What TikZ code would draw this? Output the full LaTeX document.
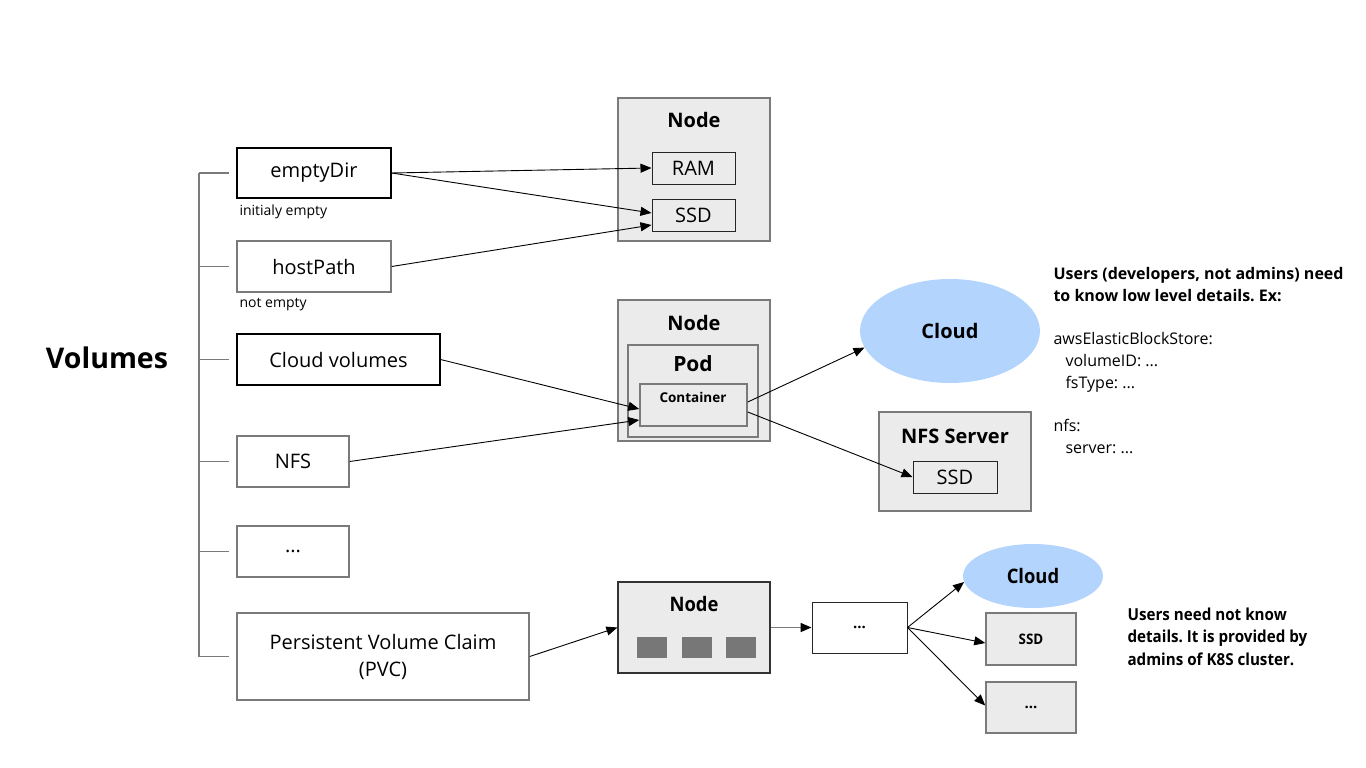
\documentclass[tikz,border=0pt]{standalone}
\usepackage{fontspec}
\setmainfont{Open Sans}
\newfontfamily\condfont[FakeStretch=0.92]{Open Sans}
\usepackage{tikz}
\usetikzlibrary{arrows.meta}
\usetikzlibrary{positioning}
\usetikzlibrary{shapes.geometric}
\definecolor{boxgray}{HTML}{EBEBEB}
\definecolor{linegray}{HTML}{7A7A7A}
\definecolor{cloudblue}{HTML}{B3D4FC}
\definecolor{chipgray}{HTML}{777777}
\frenchspacing

\begin{document}
\begin{tikzpicture}[
    x=1pt, y=-1pt,
    vol/.style={rectangle, draw=linegray, line width=1.5pt, inner sep=0pt, align=center, font=\fontsize{20}{27}\selectfont},
    host/.style={rectangle, draw=linegray, line width=1.5pt, inner sep=0pt, fill=boxgray},
    part/.style={rectangle, draw=black!85, line width=1pt, inner sep=0pt, fill=boxgray, font=\fontsize{20}{22}\selectfont},
    cloud/.style={ellipse, fill=cloudblue, inner sep=0pt},
    title/.style={font=\bfseries\fontsize{20}{22}\selectfont},
    note/.style={anchor=west, font=\fontsize{14}{16}\selectfont},
    edge/.style={-{Triangle[length=11pt,width=9pt]}, line width=0.9pt},
    bracket/.style={draw=linegray, line width=1.6pt}
]
\useasboundingbox (0,0) rectangle (1366,768);

% Título
\node[font=\bfseries\fontsize{28.5}{30}\selectfont] (volumes) at (107,358) {Volumes};

% Tipos de volumen (lado izquierdo)
\node[vol, draw=black, line width=1.2pt, minimum width=154pt, minimum height=50pt] (empty) at (314,173) {emptyDir};
\node[vol, minimum width=154pt, minimum height=51pt] (host) at (314,266.5) {hostPath};
\node[vol, draw=black, line width=1.2pt, minimum width=203pt, minimum height=51pt] (cloudvol) at (338.5,359.5) {Cloud volumes};
\node[vol, minimum width=112pt, minimum height=51pt] (nfs) at (293,461.5) {NFS};
\node[vol, minimum width=112pt, minimum height=51pt] (other) at (293,551.5) {...};
\node[vol, minimum width=292pt, minimum height=87pt] (pvc) at (383,656.5) {Persistent Volume Claim\\(PVC)};

\node[note] (emptynote) at (236,212) {initialy empty};
\node[note] (hostnote) at (236,305) {not empty};

% Corchete
\coordinate (br) at (199,0);
\draw[bracket] (empty.west -| br) -- (pvc.west -| br);
\draw[bracket] ([xshift=-7pt]empty.west) -- (empty.west -| br);
\draw[bracket] ([xshift=-7pt]host.west) -- (host.west -| br);
\draw[bracket] ([xshift=-7pt]cloudvol.west) -- (cloudvol.west -| br);
\draw[bracket] ([xshift=-7pt]nfs.west) -- (nfs.west -| br);
\draw[bracket] ([xshift=-7pt]other.west) -- (other.west -| br);
\draw[bracket] ([xshift=-7pt]pvc.west) -- (pvc.west -| br);

% Nodo con RAM y SSD
\node[host, minimum width=152pt, minimum height=143pt] (node1) at (694,169.5) {};
\node[title] (node1t) at (694,120) {Node};
\node[part, minimum width=83pt, minimum height=32pt] (ram) at (693.5,168) {RAM};
\node[part, minimum width=83pt, minimum height=32pt] (ssd1) at (693.5,215) {SSD};

% Nodo con Pod y Container
\node[host, minimum width=152pt, minimum height=141pt] (node2) at (694,370.5) {};
\node[title] (node2t) at (694,323) {Node};
\node[host, minimum width=130pt, minimum height=92pt] (pod) at (693,391) {};
\node[title, font=\bfseries\fontsize{21}{22}\selectfont] (podt) at (693,364) {Pod};
\node[host, minimum width=107pt, minimum height=42pt] (cont) at (693.5,405) {};
\node[font=\bfseries\fontsize{13.5}{15}\selectfont] (contt) at (693,397) {Container};

% Cloud y NFS Server
\node[cloud, minimum width=180pt, minimum height=104pt] (cloud1) at (950,331) {};
\node[title, font=\bfseries\fontsize{20}{22}\selectfont] (cloud1t) at (950,331) {Cloud};
\node[host, minimum width=152pt, minimum height=99pt] (nfsserver) at (955,461.5) {};
\node[title] (nfsservert) at (955,436) {NFS Server};
\node[part, minimum width=84pt, minimum height=32pt] (ssd2) at (955,477) {SSD};

% Nodo del PVC
\node[host, draw=black!80, line width=1.2pt, minimum width=152pt, minimum height=91pt] (node3) at (694,627.5) {};
\node[title, font=\condfont\bfseries\fontsize{20}{22}\selectfont] (node3t) at (694,604) {Node};
\node[rectangle, fill=chipgray, minimum width=30pt, minimum height=21pt] (chip1) at (652,647.5) {};
\node[rectangle, fill=chipgray, minimum width=30pt, minimum height=21pt] (chip2) at (697,647.5) {};
\node[rectangle, fill=chipgray, minimum width=30pt, minimum height=21pt] (chip3) at (741,647.5) {};

\node[part, fill=white, minimum width=95pt, minimum height=51pt, font=\bfseries\fontsize{15}{16}\selectfont] (dots) at (859.5,627.5) {...};
\node[cloud, minimum width=140pt, minimum height=64pt, font=\condfont\bfseries\fontsize{20}{22}\selectfont] (cloud2) at (1033,576) {Cloud};
\node[host, minimum width=90pt, minimum height=52pt, font=\condfont\bfseries\fontsize{14.5}{16}\selectfont] (ssd3) at (1031,639) {SSD};
\node[host, minimum width=90pt, minimum height=51pt, font=\bfseries\fontsize{15}{16}\selectfont] (more) at (1031,707.5) {...};

% Conexiones
\draw[edge] (empty.east) -- (ram.west);
\draw[edge] (empty.east) -- ([yshift=2pt]ssd1.west);
\draw[edge] (host.east) -- ([yshift=-10pt]ssd1.west);
\draw[edge] (cloudvol.east) -- ([yshift=-4pt]cont.west);
\draw[edge] (nfs.east) -- ([yshift=-15pt]cont.west);
\draw[edge] ([yshift=3pt]cont.east) -- (cloud1.191);
\draw[edge] ([yshift=-7pt]cont.east) -- (ssd2.west);
\draw[edge] (pvc.east) -- (node3.west);
\draw[edge, -{Triangle[length=11pt,width=9pt,color=black]}, draw=linegray, line width=1.6pt] (node3.east) -- (dots.west);
\draw[edge] (dots.east) -- (cloud2.185);
\draw[edge] (dots.east) -- ([yshift=-4pt]ssd3.west);
\draw[edge] (dots.east) -- ([yshift=2pt]more.west);

% Notas
\node[anchor=north west, align=left, font=\fontsize{16}{21.7}\selectfont] (devnote) at (1050,264)
  {\textbf{Users (developers, not admins) need}\\
   \textbf{to know low level details. Ex:}\\[21.7pt]
   awsElasticBlockStore:\\
   \hspace*{12pt}volumeID: ...\\
   \hspace*{12pt}fsType: ...\\[21.7pt]
   nfs:\\
   \hspace*{12pt}server: ...};
\node[anchor=north west, align=left, font=\condfont\bfseries\fontsize{16.5}{22.5}\selectfont] (adminnote) at (1124,604)
  {Users need not know\\details. It is provided by\\admins of K8S cluster.};

\end{tikzpicture}
\end{document}
